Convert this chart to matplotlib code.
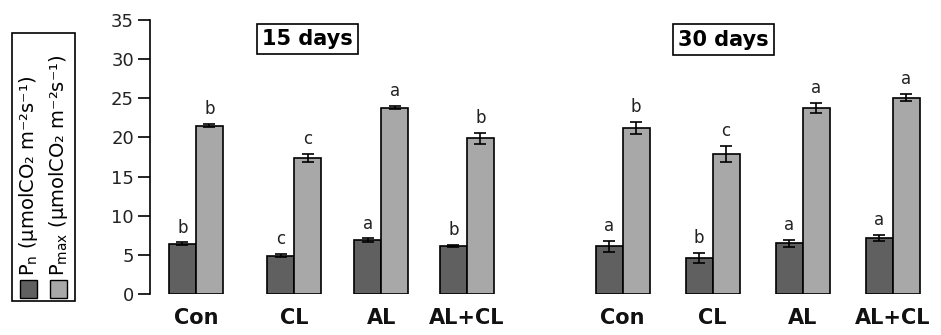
import numpy as np
import matplotlib
matplotlib.use("Agg")
import matplotlib.pyplot as plt
from matplotlib.patches import Rectangle

# photosynthesis values, 15 days and 30 days
grupos = ["Con", "CL", "AL", "AL+CL"]
pn_15 = [6.4, 4.9, 6.9, 6.1]
pn_15_err = [0.2, 0.2, 0.2, 0.15]
pmax_15 = [21.5, 17.4, 23.8, 19.9]
pmax_15_err = [0.2, 0.5, 0.2, 0.7]
pn_30 = [6.1, 4.6, 6.5, 7.2]
pn_30_err = [0.7, 0.65, 0.45, 0.4]
pmax_30 = [21.2, 17.9, 23.8, 25.1]
pmax_30_err = [0.75, 1.0, 0.65, 0.45]
letras_pn_15 = ["b", "c", "a", "b"]
letras_pmax_15 = ["b", "c", "a", "b"]
letras_pn_30 = ["a", "b", "a", "a"]
letras_pmax_30 = ["b", "c", "a", "a"]

cor_pn = "#606060"
cor_pmax = "#a8a8a8"
w = 0.3

fig = plt.figure(figsize=(9.41, 3.35), dpi=100)
ax = fig.add_axes([150/941, 1-294/335, 785/941, 274/335])

# posicoes dos grupos (layout)
x15 = np.array([0, 1.09, 2.06, 3.01])
x30 = np.arange(4) + 4.74
x = np.concatenate([x15, x30])
pn = pn_15 + pn_30
pn_err = pn_15_err + pn_30_err
pmax = pmax_15 + pmax_30
pmax_err = pmax_15_err + pmax_30_err
letras_pn = letras_pn_15 + letras_pn_30
letras_pmax = letras_pmax_15 + letras_pmax_30

ax.bar(x - w/2, pn, w, color=cor_pn, edgecolor="black", linewidth=1.2,
       yerr=pn_err, capsize=4, error_kw=dict(elinewidth=1.2, capthick=1.2))
ax.bar(x + w/2, pmax, w, color=cor_pmax, edgecolor="black", linewidth=1.2,
       yerr=pmax_err, capsize=4, error_kw=dict(elinewidth=1.2, capthick=1.2))

for i in range(len(x)):
    ax.annotate(letras_pn[i], (x[i] - w/2, pn[i] + pn_err[i]), xytext=(0, 7),
                textcoords="offset points", ha="center", va="baseline", fontsize=12, color="#222222")
    ax.annotate(letras_pmax[i], (x[i] + w/2, pmax[i] + pmax_err[i]), xytext=(0, 7),
                textcoords="offset points", ha="center", va="baseline", fontsize=12, color="#222222")

ax.set_ylim(0, 35)
ax.set_xlim(-0.511, 8.21)
ax.set_yticks(range(0, 36, 5))
ax.set_xticks(x)
ax.set_xticklabels(grupos * 2, fontsize=15, fontweight="bold", color="#111111")
ax.tick_params(axis="x", length=0, pad=10)
ax.tick_params(axis="y", length=8.5, width=1.2, labelsize=13, pad=3, direction="out", labelcolor="#222222")
for s in ["top", "right", "bottom"]:
    ax.spines[s].set_visible(False)
ax.spines["left"].set_linewidth(1.2)

caixa = dict(boxstyle="square,pad=0.25", facecolor="white", edgecolor="black", linewidth=1.2)
ax.text(1.24, 32.6, "15 days", ha="center", va="center", fontsize=15, fontweight="bold", bbox=caixa, clip_on=False)
ax.text(5.86, 32.5, "30 days", ha="center", va="center", fontsize=15, fontweight="bold", bbox=caixa, clip_on=False)

# legenda vertical a esquerda
fig.add_artist(Rectangle((12/941, 1-301/335), 63/941, 268/335, transform=fig.transFigure,
                         facecolor="white", edgecolor="black", linewidth=1.2))
fig.add_artist(Rectangle((20/941, 1-298/335), 17/941, 18/335, transform=fig.transFigure,
                         facecolor=cor_pn, edgecolor="black", linewidth=1))
fig.add_artist(Rectangle((50/941, 1-298/335), 17/941, 18/335, transform=fig.transFigure,
                         facecolor=cor_pmax, edgecolor="black", linewidth=1))
fig.text(29/941, 1-276/335, r"P$_{\rm n}$ (μmolCO₂ m⁻²s⁻¹)", rotation=90,
         ha="center", va="bottom", fontsize=14)
fig.text(59/941, 1-276/335, r"P$_{\rm max}$ (μmolCO₂ m⁻²s⁻¹)", rotation=90,
         ha="center", va="bottom", fontsize=14)

plt.savefig("out.png", dpi=100)
